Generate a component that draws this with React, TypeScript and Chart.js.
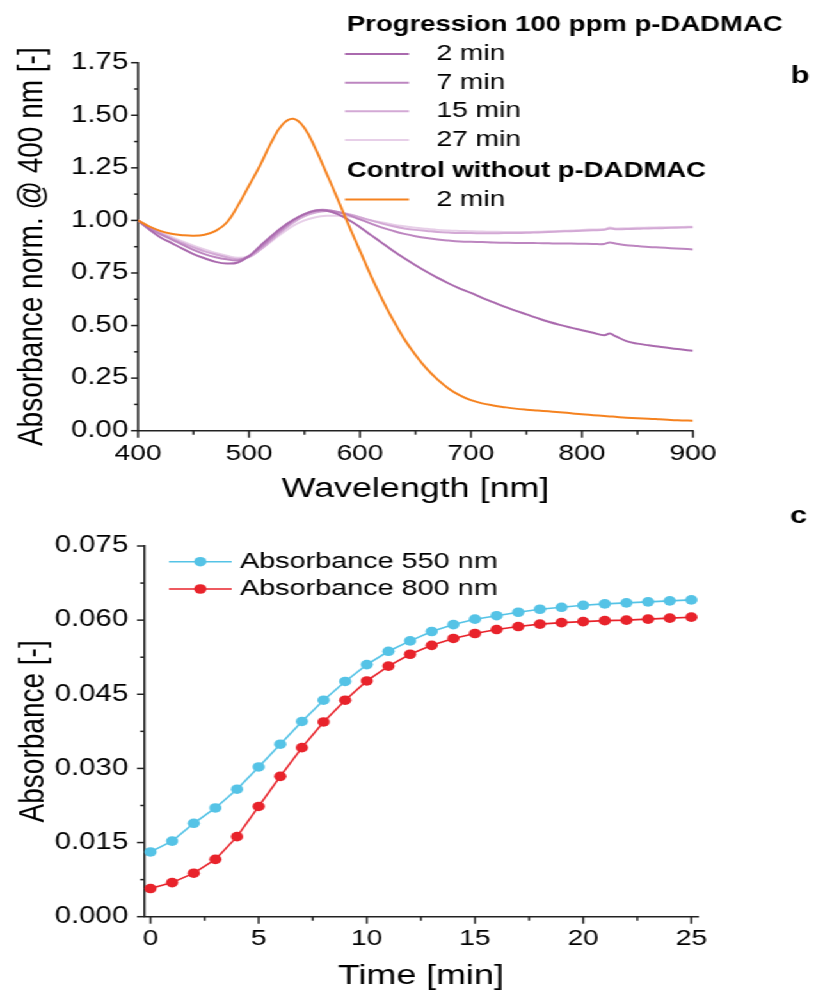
import React, { useEffect, useRef } from "react";
import { Chart, registerables } from "chart.js";
Chart.register(...registerables);

// ---------- Panel b: normalised absorbance spectra ----------
const wavelengths = [
  400, 410, 420, 430, 440, 450, 460, 470, 480, 490, 500, 510, 520, 530, 540, 550, 560, 570, 580, 590,
  600, 610, 620, 630, 640, 650, 660, 670, 680, 690, 700, 710, 720, 730, 740, 750, 760, 770, 780, 790,
  800, 810, 820, 825, 830, 840, 850, 860, 870, 880, 890, 900,
];
const prog2min = [
  1.0, 0.958, 0.92, 0.893, 0.866, 0.84, 0.82, 0.803, 0.795, 0.8, 0.83, 0.878, 0.925, 0.968, 1.003, 1.03, 1.046, 1.046, 1.03, 1.002,
  0.968, 0.93, 0.892, 0.855, 0.82, 0.787, 0.756, 0.727, 0.7, 0.676, 0.655, 0.632, 0.611, 0.59, 0.571, 0.553, 0.535, 0.518, 0.503, 0.49,
  0.478, 0.466, 0.454, 0.462, 0.45, 0.426, 0.414, 0.406, 0.399, 0.392, 0.386, 0.38,
];
const prog7min = [
  1.0, 0.965, 0.935, 0.91, 0.885, 0.86, 0.84, 0.825, 0.815, 0.81, 0.83, 0.87, 0.915, 0.96, 1.0, 1.03, 1.048, 1.05, 1.04, 1.025,
  1.005, 0.985, 0.966, 0.95, 0.936, 0.925, 0.916, 0.909, 0.904, 0.9, 0.898, 0.897, 0.895, 0.894, 0.893, 0.893, 0.892, 0.891, 0.89, 0.89,
  0.889, 0.888, 0.888, 0.895, 0.89, 0.882, 0.878, 0.874, 0.871, 0.868, 0.865, 0.862,
];
const prog15min = [
  1.0, 0.968, 0.94, 0.915, 0.893, 0.872, 0.853, 0.838, 0.825, 0.815, 0.825, 0.86, 0.905, 0.95, 0.99, 1.02, 1.038, 1.045, 1.04, 1.03,
  1.015, 1.0, 0.985, 0.972, 0.962, 0.955, 0.95, 0.945, 0.942, 0.94, 0.94, 0.939, 0.939, 0.94, 0.94, 0.941, 0.943, 0.945, 0.947, 0.949,
  0.951, 0.953, 0.955, 0.962, 0.958, 0.959, 0.96, 0.962, 0.963, 0.965, 0.966, 0.968,
];
const prog27min = [
  1.0, 0.97, 0.945, 0.922, 0.9, 0.88, 0.862, 0.845, 0.832, 0.822, 0.83, 0.86, 0.9, 0.94, 0.975, 1.0, 1.015, 1.022, 1.022, 1.018,
  1.01, 1.0, 0.99, 0.98, 0.972, 0.965, 0.96, 0.955, 0.952, 0.95, 0.948, 0.947, 0.946, 0.945, 0.945, 0.945, 0.946, 0.948, 0.95, 0.952,
  0.955, 0.957, 0.959, 0.966, 0.962, 0.963, 0.965, 0.966, 0.967, 0.968, 0.969, 0.97,
];
const control2min = [
  1.0, 0.972, 0.95, 0.937, 0.93, 0.927, 0.932, 0.95, 0.99, 1.07, 1.165, 1.262, 1.37, 1.455, 1.483, 1.44, 1.34, 1.222, 1.1, 0.975,
  0.855, 0.735, 0.625, 0.525, 0.435, 0.36, 0.295, 0.243, 0.2, 0.168, 0.145, 0.13, 0.12, 0.112, 0.105, 0.1, 0.096, 0.092, 0.088, 0.083,
  0.078, 0.074, 0.07, 0.068, 0.066, 0.062, 0.059, 0.057, 0.054, 0.051, 0.049, 0.047,
];
const bXTicks = [400, 450, 500, 550, 600, 650, 700, 750, 800, 850, 900];
const bYTicks = [0, 0.125, 0.25, 0.375, 0.5, 0.625, 0.75, 0.875, 1, 1.125, 1.25, 1.375, 1.5, 1.625, 1.75];
const bHeaders = ["Progression 100 ppm p-DADMAC", "Control without p-DADMAC"];
const bProgLabels = ["2 min", "7 min", "15 min", "27 min"];
const bControlLabel = "2 min";

// ---------- Panel c: absorbance vs time ----------
const times = [0, 1, 2, 3, 4, 5, 6, 7, 8, 9, 10, 11, 12, 13, 14, 15, 16, 17, 18, 19, 20, 21, 22, 23, 24, 25];
const abs550 = [
  0.0131, 0.0153, 0.0189, 0.022, 0.0258, 0.0303, 0.0349, 0.0395, 0.0438, 0.0476, 0.051, 0.0537, 0.0558,
  0.0577, 0.0591, 0.0602, 0.0609, 0.0616, 0.0622, 0.0626, 0.063, 0.0633, 0.0635, 0.0637, 0.0639, 0.0641,
];
const abs800 = [
  0.0057, 0.0069, 0.0088, 0.0116, 0.0162, 0.0223, 0.0284, 0.0342, 0.0394, 0.0438, 0.0477, 0.0507, 0.0531,
  0.0549, 0.0563, 0.0573, 0.0581, 0.0587, 0.0592, 0.0595, 0.0597, 0.0599, 0.06, 0.0602, 0.0604, 0.0606,
];
const cXTicks = [0, 2.5, 5, 7.5, 10, 12.5, 15, 17.5, 20, 22.5, 25];
const cYTicks = [0, 0.0075, 0.015, 0.0225, 0.03, 0.0375, 0.045, 0.0525, 0.06, 0.0675, 0.075];
const cLabels = ["Absorbance 550 nm", "Absorbance 800 nm"];

// ---------- styling ----------
const FAM = "'Liberation Sans', Arial, Helvetica, sans-serif";
const INK = "#000000";
const AXIS = "#222222";
const ORANGE = "#f5821f";
const PURPLES = ["#aa6aae", "#bd86c0", "#d3a9d5", "#e7cfe8"];
const BLUE = "#55c3e6";
const RED = "#e8232b";
const STRETCH = 1.28;
const W = 641;

const isMajor = (v: number, step: number) => Math.abs(v / step - Math.round(v / step)) < 1e-6;

function tickMarks(xMajor: number, yMajor: number) {
  return {
    id: "tickMarks",
    afterDraw(chart: any) {
      const { ctx, chartArea, scales } = chart;
      ctx.save();
      ctx.strokeStyle = AXIS;
      ctx.lineWidth = 1.5;
      scales.x.ticks.forEach((t: any) => {
        const px = scales.x.getPixelForValue(t.value);
        const len = isMajor(t.value, xMajor) ? 7 : 4;
        ctx.beginPath();
        ctx.moveTo(px, chartArea.bottom);
        ctx.lineTo(px, chartArea.bottom + len);
        ctx.stroke();
      });
      scales.y.ticks.forEach((t: any) => {
        const py = scales.y.getPixelForValue(t.value);
        const len = isMajor(t.value, yMajor) ? 5.5 : 3;
        ctx.beginPath();
        ctx.moveTo(chartArea.left - len, py);
        ctx.lineTo(chartArea.left, py);
        ctx.stroke();
      });
      ctx.restore();
    },
  };
}

function axis(opts: any) {
  const { min, max, ticks, major, fmt, fit, isX, padding, title, titlePad, titleFont } = opts;
  return {
    type: "linear",
    min,
    max,
    bounds: "data",
    afterBuildTicks: (s: any) => {
      s.ticks = ticks.map((v: number) => ({ value: v }));
    },
    afterFit: (s: any) => {
      if (isX) s.height = fit;
      else s.width = fit;
    },
    grid: { display: false, drawTicks: false },
    border: { display: true, color: AXIS, width: 1.6 },
    ticks: {
      autoSkip: false,
      maxRotation: 0,
      minRotation: 0,
      padding,
      color: INK,
      font: { size: isX ? 22 : 23, family: FAM },
      callback: (v: number) => (isMajor(v, major) ? fmt(v) : ""),
    },
    title: {
      display: true,
      text: title,
      color: INK,
      font: titleFont || { size: 28, family: FAM },
      padding: titlePad,
    },
  };
}

function panelBConfig(): any {
  const pts = (vals: number[]) => wavelengths.map((w, i) => ({ x: w, y: vals[i] }));
  const line = (label: string, vals: number[], color: string) => ({
    label,
    data: pts(vals),
    borderColor: color,
    backgroundColor: color,
    borderWidth: 2,
    pointRadius: 0,
    tension: 0.4,
  });
  const legend = {
    id: "legendB",
    afterDraw(chart: any) {
      const ctx = chart.ctx;
      ctx.save();
      ctx.textBaseline = "middle";
      ctx.textAlign = "left";
      ctx.fillStyle = INK;
      ctx.font = `bold 21.5px ${FAM}`;
      ctx.fillText(bHeaders[0], 271, 25);
      ctx.fillText(bHeaders[1], 271, 171);
      const rows = [54, 82.7, 111.3, 140];
      ctx.lineWidth = 2;
      ctx.font = `22px ${FAM}`;
      bProgLabels.forEach((lab, i) => {
        ctx.strokeStyle = PURPLES[i];
        ctx.beginPath();
        ctx.moveTo(269.5, rows[i]);
        ctx.lineTo(319.5, rows[i]);
        ctx.stroke();
        ctx.fillStyle = INK;
        ctx.fillText(lab, 341, rows[i]);
      });
      ctx.strokeStyle = ORANGE;
      ctx.beginPath();
      ctx.moveTo(269.5, 199.5);
      ctx.lineTo(319.5, 199.5);
      ctx.stroke();
      ctx.fillText(bControlLabel, 341, 199.5);
      ctx.font = `bold 24px ${FAM}`;
      ctx.textAlign = "center";
      ctx.fillText("b", 625, 76);
      ctx.restore();
    },
  };
  return {
    type: "line",
    data: {
      datasets: [
        line("Control without p-DADMAC 2 min", control2min, ORANGE),
        line("2 min", prog2min, PURPLES[0]),
        line("7 min", prog7min, PURPLES[1]),
        line("15 min", prog15min, PURPLES[2]),
        line("27 min", prog27min, PURPLES[3]),
      ],
    },
    options: {
      responsive: false,
      animation: false,
      devicePixelRatio: 1,
      layout: { padding: { top: 62.7, right: 99.6, left: 0, bottom: 0 } },
      plugins: { legend: { display: false }, tooltip: { enabled: false } },
      scales: {
        x: axis({
          min: 400, max: 900, ticks: bXTicks, major: 100, fmt: (v: number) => String(v), fit: 89.3, isX: true,
          padding: 10.2, title: "Wavelength [nm]", titlePad: { top: 0, bottom: 13.5 },
        }),
        y: axis({
          min: 0, max: 1.75, ticks: bYTicks, major: 0.25, fmt: (v: number) => v.toFixed(2), fit: 107.8, isX: false,
          padding: 7.6, title: "Absorbance norm. @ 400 nm [-]", titlePad: { top: 8.2, bottom: 0 },
        }),
      },
    },
    plugins: [tickMarks(100, 0.25), legend],
  };
}

function panelCConfig(): any {
  const series = (label: string, vals: number[], color: string) => ({
    label,
    data: times.map((t, i) => ({ x: t, y: vals[i] })),
    borderColor: color,
    backgroundColor: color,
    borderWidth: 1.6,
    pointRadius: 4.8,
    pointBorderWidth: 0,
    pointBackgroundColor: color,
    tension: 0,
    clip: false,
  });
  const legend = {
    id: "legendC",
    afterDraw(chart: any) {
      const ctx = chart.ctx;
      ctx.save();
      const rows = [66.7, 94];
      const colors = [BLUE, RED];
      ctx.textBaseline = "middle";
      ctx.textAlign = "left";
      ctx.font = `22.5px ${FAM}`;
      cLabels.forEach((lab, i) => {
        ctx.strokeStyle = colors[i];
        ctx.fillStyle = colors[i];
        ctx.lineWidth = 1.6;
        ctx.beginPath();
        ctx.moveTo(132, rows[i]);
        ctx.lineTo(181, rows[i]);
        ctx.stroke();
        ctx.beginPath();
        ctx.arc(156.5, rows[i], 4.8, 0, Math.PI * 2);
        ctx.fill();
        ctx.fillStyle = INK;
        ctx.fillText(lab, 187.5, rows[i]);
      });
      ctx.font = `bold 24px ${FAM}`;
      ctx.textAlign = "center";
      ctx.fillText("c", 624, 21);
      ctx.restore();
    },
  };
  return {
    type: "line",
    data: { datasets: [series(cLabels[0], abs550, BLUE), series(cLabels[1], abs800, RED)] },
    options: {
      responsive: false,
      animation: false,
      devicePixelRatio: 1,
      layout: { padding: { top: 51, right: 95.8, left: 0, bottom: 0 } },
      plugins: { legend: { display: false }, tooltip: { enabled: false } },
      scales: {
        x: axis({
          min: -0.3, max: 25.3, ticks: cXTicks, major: 5, fmt: (v: number) => String(Math.round(v)), fit: 74.3, isX: true,
          padding: 9.2, title: "Time [min]", titlePad: { top: 0, bottom: 1 },
          titleFont: { size: 28, family: FAM, lineHeight: 1 },
        }),
        y: axis({
          min: 0, max: 0.075, ticks: cYTicks, major: 0.015, fmt: (v: number) => v.toFixed(3), fit: 112.5, isX: false,
          padding: 12.3, title: "Absorbance [-]", titlePad: { top: 9, bottom: 0 },
        }),
      },
    },
    plugins: [tickMarks(5, 0.015), legend],
  };
}

function ChartCanvas({ make, top, height }: { make: () => any; top: number; height: number }) {
  const ref = useRef<HTMLCanvasElement | null>(null);
  useEffect(() => {
    if (!ref.current) return;
    const chart = new Chart(ref.current, make());
    return () => chart.destroy();
  }, [make]);
  return (
    <canvas
      ref={ref}
      width={W}
      height={height}
      style={{ position: "absolute", left: 0, top, width: W, height, display: "block" }}
    />
  );
}

export default function App() {
  return (
    <div
      style={{
        position: "absolute",
        left: 0,
        top: 0,
        width: W,
        height: 991,
        overflow: "visible",
        background: "#ffffff",
        transform: `scaleX(${STRETCH})`,
        transformOrigin: "0 0",
      }}
    >
      <ChartCanvas make={panelBConfig} top={0} height={520} />
      <ChartCanvas make={panelCConfig} top={495} height={496} />
    </div>
  );
}
